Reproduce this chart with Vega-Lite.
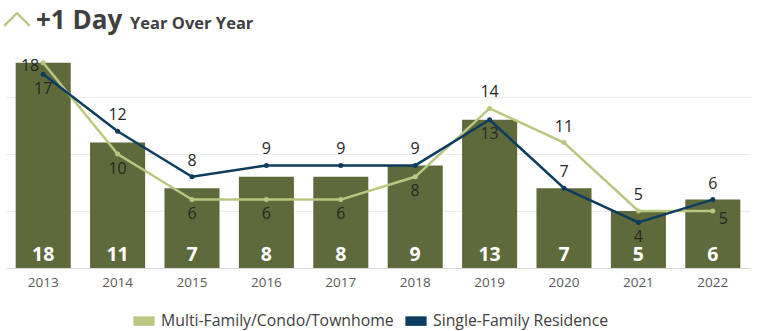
{
  "$schema": "https://vega.github.io/schema/vega-lite/v6.json",
  "width": 744,
  "height": 228,
  "autosize": {"type": "none"},
  "padding": {"left": 6, "top": 40, "right": 10, "bottom": 63},
  "background": "white",
  "config": {
    "view": {"stroke": null},
    "font": "Open Sans",
    "axis": {"labelFont": "Open Sans", "titleFont": "Open Sans"},
    "legend": {"labelFont": "Open Sans"}
  },
  "datasets": {
    "bars": [
      {"year": "2013", "total": 18},
      {"year": "2014", "total": 11},
      {"year": "2015", "total": 7},
      {"year": "2016", "total": 8},
      {"year": "2017", "total": 8},
      {"year": "2018", "total": 9},
      {"year": "2019", "total": 13},
      {"year": "2020", "total": 7},
      {"year": "2021", "total": 5},
      {"year": "2022", "total": 6}
    ],
    "lines": [
      {"year": "2013", "type": "Multi-Family/Condo/Townhome", "value": 18},
      {"year": "2014", "type": "Multi-Family/Condo/Townhome", "value": 10},
      {"year": "2015", "type": "Multi-Family/Condo/Townhome", "value": 6},
      {"year": "2016", "type": "Multi-Family/Condo/Townhome", "value": 6},
      {"year": "2017", "type": "Multi-Family/Condo/Townhome", "value": 6},
      {"year": "2018", "type": "Multi-Family/Condo/Townhome", "value": 8},
      {"year": "2019", "type": "Multi-Family/Condo/Townhome", "value": 14},
      {"year": "2020", "type": "Multi-Family/Condo/Townhome", "value": 11},
      {"year": "2021", "type": "Multi-Family/Condo/Townhome", "value": 5},
      {"year": "2022", "type": "Multi-Family/Condo/Townhome", "value": 5},
      {"year": "2013", "type": "Single-Family Residence", "value": 17},
      {"year": "2014", "type": "Single-Family Residence", "value": 12},
      {"year": "2015", "type": "Single-Family Residence", "value": 8},
      {"year": "2016", "type": "Single-Family Residence", "value": 9},
      {"year": "2017", "type": "Single-Family Residence", "value": 9},
      {"year": "2018", "type": "Single-Family Residence", "value": 9},
      {"year": "2019", "type": "Single-Family Residence", "value": 13},
      {"year": "2020", "type": "Single-Family Residence", "value": 7},
      {"year": "2021", "type": "Single-Family Residence", "value": 4},
      {"year": "2022", "type": "Single-Family Residence", "value": 6}
    ],
    "heading": [{"a": "+1 Day", "b": "Year Over Year"}]
  },
  "encoding": {
    "x": {
      "field": "year",
      "type": "nominal",
      "scale": {"paddingInner": 0.26, "paddingOuter": 0.13},
      "axis": {
        "title": null,
        "labelAngle": 0,
        "labelColor": "#595959",
        "labelFontSize": 13.5,
        "labelPadding": 7,
        "ticks": false,
        "domainColor": "#d9d9d9",
        "grid": false
      }
    }
  },
  "layer": [
    {
      "data": {"name": "bars"},
      "mark": {"type": "bar", "color": "#5f6a3c"},
      "encoding": {
        "y": {
          "field": "total",
          "type": "quantitative",
          "scale": {"domain": [0, 20], "nice": false},
          "axis": {
            "title": null,
            "labels": false,
            "ticks": false,
            "domain": false,
            "values": [5, 10, 15],
            "gridColor": "#ececec",
            "gridWidth": 1
          }
        }
      }
    },
    {
      "data": {"name": "bars"},
      "mark": {"type": "text", "color": "white", "fontSize": 19.5, "fontWeight": "bold", "dy": -13},
      "encoding": {
        "y": {"datum": 0, "type": "quantitative"},
        "text": {"field": "total", "type": "quantitative"}
      }
    },
    {
      "data": {"name": "lines"},
      "mark": {"type": "line", "strokeWidth": 2.5, "point": {"size": 25, "filled": true}},
      "encoding": {
        "y": {"field": "value", "type": "quantitative"},
        "color": {
          "field": "type",
          "type": "nominal",
          "scale": {
            "domain": ["Multi-Family/Condo/Townhome", "Single-Family Residence"],
            "range": ["#b9c780", "#0d3d5e"]
          },
          "legend": {
            "title": null,
            "orient": "none",
            "legendX": 127,
            "legendY": 270,
            "direction": "horizontal",
            "symbolType": "M-1,-0.45H1V0.45H-1Z",
            "symbolSize": 450,
            "symbolStrokeWidth": 0,
            "labelFontSize": 15.8,
            "labelLimit": 0,
            "labelColor": "#404040",
            "columnPadding": 11,
            "labelOffset": 6
          }
        }
      }
    },
    {
      "data": {"name": "lines"},
      "transform": [
        {"joinaggregate": [{"op": "max", "field": "value", "as": "maxv"}], "groupby": ["year"]},
        {"filter": "datum.year != '2013' && (datum.value == datum.maxv || datum.year == '2020')"}
      ],
      "mark": {"type": "text", "fontSize": 16, "color": "#262626", "dy": -16},
      "encoding": {
        "y": {"field": "value", "type": "quantitative"},
        "text": {"field": "value", "type": "quantitative"}
      }
    },
    {
      "data": {"name": "lines"},
      "transform": [
        {"joinaggregate": [{"op": "max", "field": "value", "as": "maxv"}], "groupby": ["year"]},
        {"filter": "!(datum.value == datum.maxv || datum.year == '2020') && !(datum.year == '2022' && datum.value == 5)"}
      ],
      "mark": {"type": "text", "fontSize": 16, "color": "#262626", "dy": 14.5},
      "encoding": {
        "y": {"field": "value", "type": "quantitative"},
        "text": {"field": "value", "type": "quantitative"}
      }
    },
    {
      "data": {"name": "lines"},
      "transform": [{"filter": "datum.year == '2013' && datum.value == 18"}],
      "mark": {"type": "text", "fontSize": 16, "color": "#262626", "align": "right", "dx": -4, "dy": 3},
      "encoding": {
        "y": {"field": "value", "type": "quantitative"},
        "text": {"field": "value", "type": "quantitative"}
      }
    },
    {
      "data": {"name": "lines"},
      "transform": [{"filter": "datum.year == '2022' && datum.value == 5"}],
      "mark": {"type": "text", "fontSize": 16, "color": "#262626", "align": "left", "dx": 6, "dy": 8},
      "encoding": {
        "y": {"field": "value", "type": "quantitative"},
        "text": {"field": "value", "type": "quantitative"}
      }
    },
    {
      "data": {"name": "heading"},
      "mark": {"type": "text", "align": "left", "fontSize": 26, "fontWeight": "bold", "color": "#404040", "baseline": "alphabetic"},
      "encoding": {
        "x": {"value": 30},
        "y": {"value": -11},
        "text": {"field": "a"}
      }
    },
    {
      "data": {"name": "heading"},
      "mark": {"type": "text", "align": "left", "fontSize": 16.5, "fontWeight": "bold", "color": "#404040", "baseline": "alphabetic"},
      "encoding": {
        "x": {"value": 124},
        "y": {"value": -11},
        "text": {"field": "b"}
      }
    },
    {
      "data": {"name": "heading"},
      "mark": {"type": "point", "shape": "M-1,0.5L0,-0.5L1,0.5", "filled": false, "size": 650, "stroke": "#b9c780", "strokeWidth": 2.2, "opacity": 1},
      "encoding": {
        "x": {"value": 11},
        "y": {"value": -20.5}
      }
    }
  ]
}
